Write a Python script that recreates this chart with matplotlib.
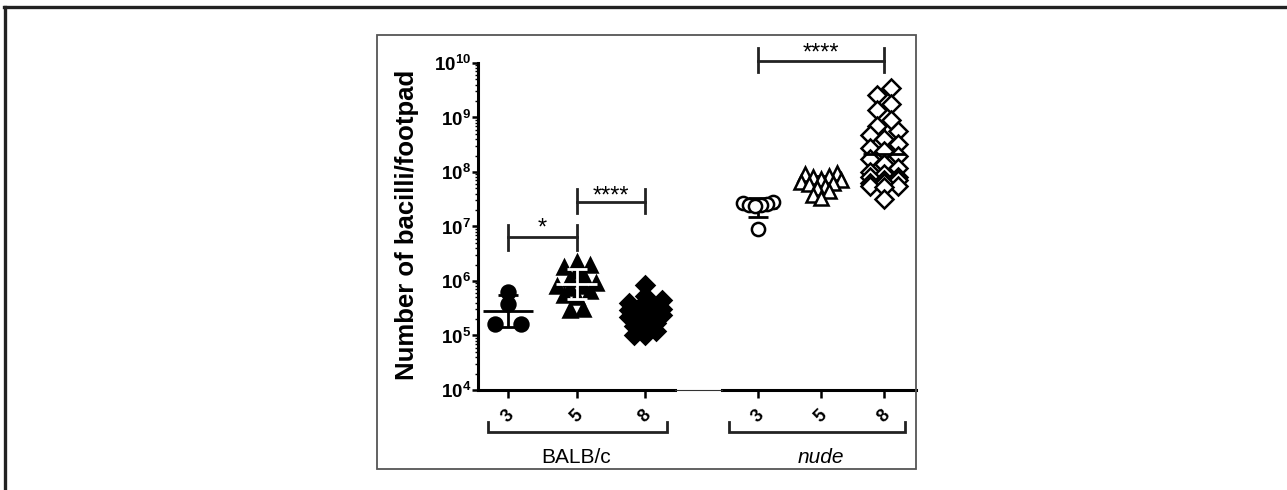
import matplotlib.pyplot as plt
import matplotlib.ticker as mticker
from matplotlib.lines import Line2D
from matplotlib.patches import Rectangle
import numpy as np

plt.rcParams['font.family'] = ['Liberation Sans', 'DejaVu Sans']
plt.rcParams['mathtext.fontset'] = 'custom'
plt.rcParams['mathtext.rm'] = 'Liberation Sans'
plt.rcParams['mathtext.bf'] = 'Liberation Sans:bold'

# data (bacilli per footpad)
weeks = ['3', '5', '8']
balb_3 = [6.2e5, 3.8e5, 1.65e5, 1.6e5]
balb_5 = [2.2e6, 2.0e6, 1.8e6, 1.5e6, 1.3e6, 1.1e6, 9.0e5, 8.0e5, 8.0e5,
          7.5e5, 6.5e5, 5.5e5, 5.0e5, 3.0e5, 2.9e5]
balb_8 = [8.5e5, 5.2e5, 4.4e5, 4.0e5, 3.6e5, 3.3e5, 3.1e5, 2.9e5, 2.7e5, 2.5e5,
          2.4e5, 2.2e5, 2.0e5, 1.9e5, 1.7e5, 1.5e5, 1.35e5, 1.2e5, 1.0e5, 1.0e5]
nude_3 = [2.8e7, 2.7e7, 2.6e7, 2.5e7, 2.5e7, 2.4e7, 9.0e6]
nude_5 = [9.5e7, 9.0e7, 8.5e7, 8.0e7, 7.5e7, 7.0e7, 6.5e7, 6.2e7, 6.0e7, 5.5e7,
          5.0e7, 4.5e7, 3.8e7, 3.4e7]
nude_8 = [3.5e9, 2.6e9, 1.8e9, 1.4e9, 9.0e8, 7.0e8, 5.6e8, 4.8e8, 4.0e8, 3.3e8,
          2.8e8, 2.4e8, 2.0e8, 1.7e8, 1.4e8, 1.2e8, 1.0e8, 9.0e7, 8.0e7, 8.0e7,
          7.0e7, 7.0e7, 6.3e7, 6.3e7, 5.6e7, 5.6e7, 5.2e7, 3.2e7]


W, H = 1287, 490
fig = plt.figure(figsize=(W / 100, H / 100), dpi=100)


def fx(px):
    return px / W


def fy(py):
    return 1 - py / H


y_top, y_bot = 63, 390
axL = fig.add_axes([fx(478), fy(y_bot), fx(675 - 478), (y_bot - y_top) / H])
axR = fig.add_axes([fx(722), fy(y_bot), fx(916 - 722), (y_bot - y_top) / H])
axL.set_xlim(1 - 30 / 68.5, 3 + 30 / 68.5)
axR.set_xlim(1 - 36 / 63, 3 + 32 / 63)

for ax in (axL, axR):
    ax.set_yscale('log')
    ax.set_ylim(1e4, 1e10)
    ax.patch.set_alpha(0)
    for s in ('top', 'right'):
        ax.spines[s].set_visible(False)
    ax.spines['bottom'].set_linewidth(2.2)
    ax.set_xticks([1, 2, 3])
    ax.set_xticklabels(weeks, rotation=45, fontweight='bold', fontsize=13)
    ax.tick_params(axis='x', length=6, width=1.8, pad=6)

axR.spines['left'].set_visible(False)
axR.tick_params(axis='y', which='both', left=False, labelleft=False)

axL.spines['left'].set_linewidth(2.2)
axL.yaxis.set_major_locator(mticker.LogLocator(base=10, numticks=10))
axL.yaxis.set_minor_locator(mticker.LogLocator(base=10, subs=np.arange(2, 10), numticks=20))
axL.yaxis.set_minor_formatter(mticker.NullFormatter())
axL.yaxis.set_major_formatter(mticker.FuncFormatter(
    lambda v, _: r'$\mathbf{10^{%d}}$' % round(np.log10(v))))
axL.tick_params(axis='y', which='major', length=4, width=1.8, pad=1, labelsize=13.5)
axL.tick_params(axis='y', which='minor', length=2.5, width=1.0)


def rows_layout(ax, x0, vals, row_h, step, max_n):
    # GraphPad-like scatter: bin points into rows, spread each row symmetrically
    ypx = ax.transData.transform(np.column_stack([np.full(len(vals), x0), vals]))[:, 1]
    order = np.argsort(ypx)
    offs = np.zeros(len(vals))
    rows = [[order[0]]]
    for i in order[1:]:
        r = rows[-1]
        if ypx[i] - ypx[r[0]] <= row_h and len(r) < max_n:
            r.append(i)
        else:
            rows.append([i])
    for r in rows:
        n = len(r)
        slots = sorted(((k - (n - 1) / 2) * step for k in range(n)),
                       key=lambda s: (abs(s), s))
        for s, i in zip(slots, r):
            offs[i] = s
    unit = (ax.transData.transform([[x0 + 1, 1e5]])[0, 0]
            - ax.transData.transform([[x0, 1e5]])[0, 0])
    return x0 + offs / unit


def group(ax, x0, vals, marker, ms, filled, row_h, step, max_n, half,
          bar_color='k', bar_z=2, mean_z=None):
    vals = np.asarray(vals)
    xs = rows_layout(ax, x0, vals, row_h, step, max_n)
    lg = np.log10(vals)
    gm = 10 ** lg.mean()
    sd = lg.std(ddof=1)
    lo, hi = 10 ** (lg.mean() - sd), 10 ** (lg.mean() + sd)
    ax.hlines(gm, x0 - half, x0 + half, color=bar_color, lw=2,
              zorder=bar_z if mean_z is None else mean_z)
    ax.errorbar([x0], [gm], yerr=[[gm - lo], [hi - gm]], fmt='none',
                ecolor=bar_color, elinewidth=2, capsize=7, capthick=2, zorder=bar_z)
    ax.plot(xs, vals, ls='none', marker=marker, ms=ms, color='k',
            mfc='k' if filled else 'white', mec='k', mew=1.8, zorder=3)


group(axL, 1, balb_3, 'o', 10, True, 4, 26, 4, 0.36)
group(axL, 2, balb_5, '^', 10.5, True, 7, 13, 4, 0.3, bar_color='white', bar_z=4)
group(axL, 3, balb_8, 'D', 9, True, 7, 11, 4, 0.3)
group(axR, 1, nude_3, 'o', 9.5, False, 8, 6, 6, 0.3)
group(axR, 2, nude_5, '^', 10, False, 8, 8, 6, 0.3)
group(axR, 3, nude_8, 'D', 9, False, 10, 14, 3, 0.34, mean_z=4)


def sig(ax, x1, x2, y, ylo, yhi, text, ty):
    ax.plot([x1, x2], [y, y], color='#222', lw=2, clip_on=False)
    ax.plot([x1, x1], [ylo, yhi], color='#222', lw=2, clip_on=False)
    ax.plot([x2, x2], [ylo, yhi], color='#222', lw=2, clip_on=False)
    ax.text((x1 + x2) / 2, ty, text, ha='center', va='center', fontsize=17,
            clip_on=False)


sig(axL, 1, 2, 6.4e6, 3.7e6, 1.07e7, '*', 9.0e6)
sig(axL, 2, 3, 2.8e7, 1.8e7, 4.9e7, '****', 3.6e7)
sig(axR, 1, 3, 1.1e10, 6.8e9, 1.9e10, '****', 1.5e10)

# group brackets below the axis
for ax, x1, x2, name, style in ((axL, 0.708, 3.32, 'BALB/c', 'normal'),
                                (axR, 0.54, 3.33, 'nude', 'italic')):
    tr = ax.get_xaxis_transform()
    ax.plot([x1, x1, x2, x2], [-0.098, -0.128, -0.128, -0.098], transform=tr,
            color='#222', lw=2, clip_on=False, solid_joinstyle='miter')
    ax.text(2, -0.205, name, transform=tr, ha='center', va='center',
            fontsize=15, style=style)

fig.text(fx(407), fy(225), 'Number of bacilli/footpad', rotation=90,
         ha='center', va='center', fontsize=18.5, fontweight='bold')

# thin line across the axis break
fig.add_artist(Line2D([fx(675), fx(722)], [fy(390), fy(390)], color='#333', lw=0.8))

# inner figure box and page frame
fig.add_artist(Rectangle((fx(377), fy(469)), fx(916 - 377), (469 - 35) / H,
                         fill=False, edgecolor='#555', lw=1.3))
fig.add_artist(Line2D([fx(4), 1], [fy(7), fy(7)], color='#222', lw=2.4))
fig.add_artist(Line2D([fx(5), fx(5)], [fy(7), 0], color='#222', lw=2.4))

fig.savefig('out.png', dpi=100)
plt.close()
